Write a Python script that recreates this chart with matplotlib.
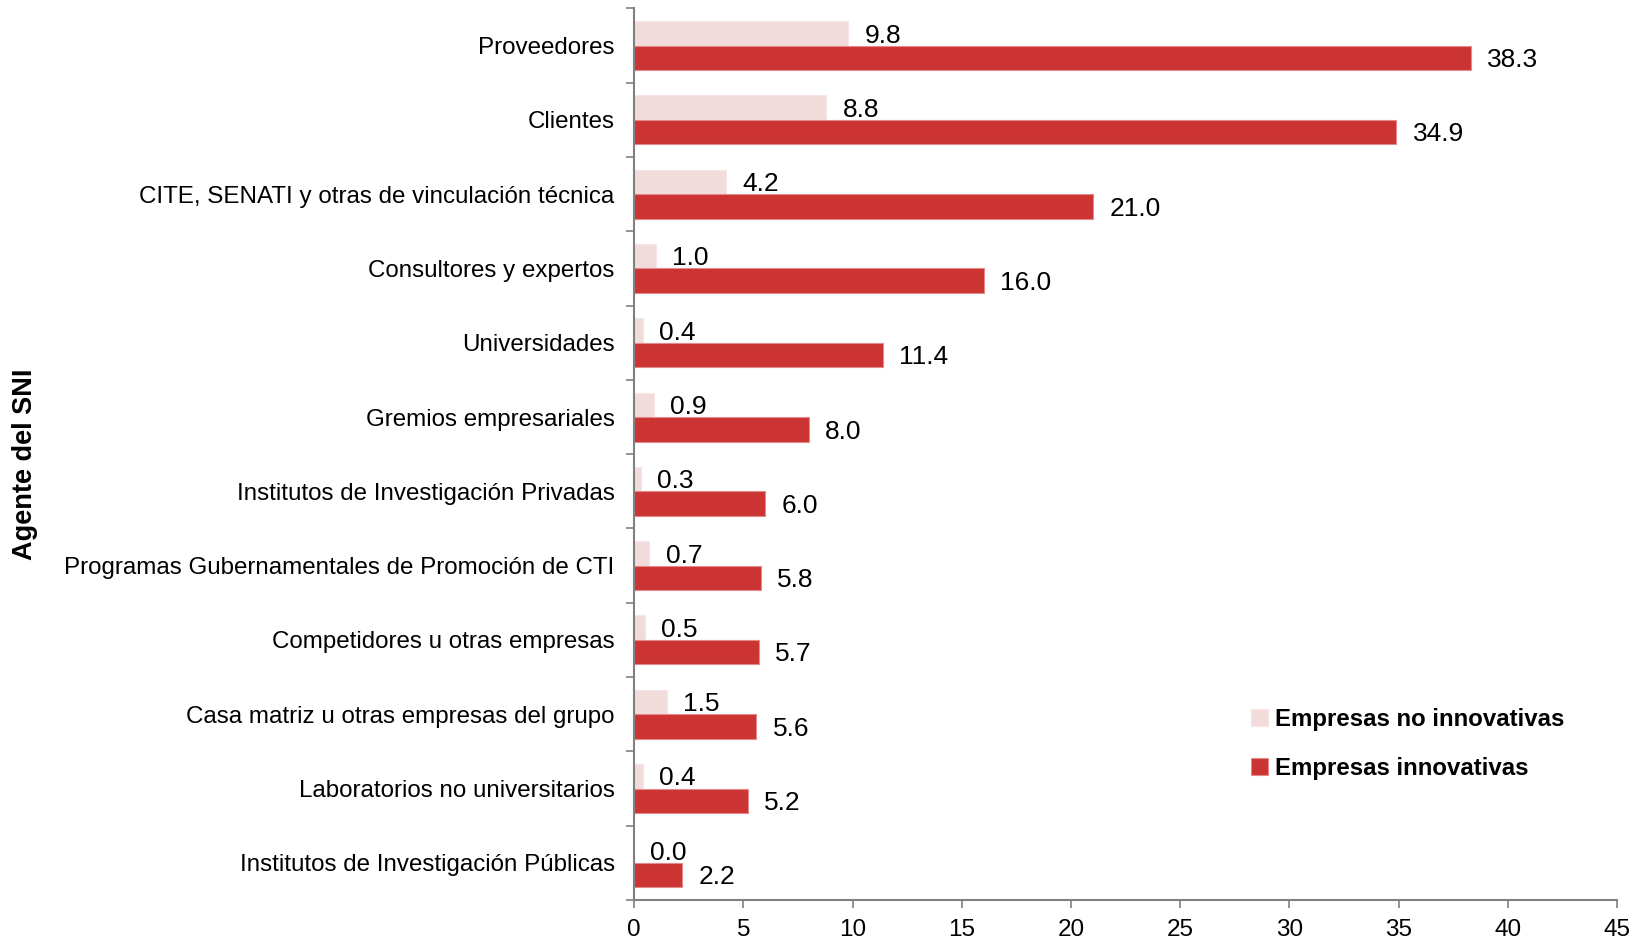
import numpy as np
import matplotlib.pyplot as plt

plt.rcParams['font.family'] = ['Liberation Sans', 'DejaVu Sans']

# Data (top to bottom as shown)
agentes = ['Proveedores', 'Clientes', 'CITE, SENATI y otras de vinculación técnica',
           'Consultores y expertos', 'Universidades', 'Gremios empresariales',
           'Institutos de Investigación Privadas',
           'Programas Gubernamentales de Promoción de CTI',
           'Competidores u otras empresas', 'Casa matriz u otras empresas del grupo',
           'Laboratorios no universitarios', 'Institutos de Investigación Públicas']
no_innov = [9.8, 8.8, 4.2, 1.0, 0.4, 0.9, 0.3, 0.7, 0.5, 1.5, 0.4, 0.0]
innov = [38.3, 34.9, 21.0, 16.0, 11.4, 8.0, 6.0, 5.8, 5.7, 5.6, 5.2, 2.2]
x_ticks = [0, 5, 10, 15, 20, 25, 30, 35, 40, 45]

c_light = '#F2DCDB'
c_dark = '#CC3333'
axis_gray = '#808080'

fig = plt.figure(figsize=(16.41, 9.40), dpi=100)
ax = fig.add_axes([0.3864, 0.0426, 0.599, 0.9484])

y = np.arange(len(agentes))
h = 0.33
ax.barh(y - h / 2, no_innov, height=h, color=c_light, edgecolor='#F7E6E5', linewidth=0.8,
        label='Empresas no innovativas')
ax.barh(y + h / 2, innov, height=h, color=c_dark, edgecolor='#E58A8A', linewidth=0.8,
        label='Empresas innovativas')

# value labels
dy = 0.03
for yi, v in zip(y, no_innov):
    ax.text(v + 0.75, yi - h / 2 + dy, f'{v:.1f}', va='center', ha='left', fontsize=19)
for yi, v in zip(y, innov):
    ax.text(v + 0.75, yi + h / 2 + dy, f'{v:.1f}', va='center', ha='left', fontsize=19)

ax.set_xlim(0, 45)
ax.set_ylim(len(agentes) - 0.5, -0.5)
ax.set_xticks(x_ticks)
ax.set_yticks(y)
ax.set_yticklabels(agentes, fontsize=17.4)
ax.set_yticks(np.arange(len(agentes) + 1) - 0.5, minor=True)
ax.tick_params(axis='y', which='major', length=0, pad=14)
ax.tick_params(axis='y', which='minor', length=6, color=axis_gray, width=1.2)
ax.tick_params(axis='x', labelsize=17.5, length=6, color=axis_gray, width=1.2, pad=8)

for s in ['top', 'right']:
    ax.spines[s].set_visible(False)
for s in ['left', 'bottom']:
    ax.spines[s].set_color(axis_gray)
    ax.spines[s].set_linewidth(1.5)

fig.text(0.0152, 0.506, 'Agente del SNI', rotation=90, va='center', ha='center',
         fontsize=19.5, fontweight='bold')

leg = ax.legend(loc='upper left', bbox_to_anchor=(0.606, 0.24), frameon=False,
                handlelength=0.7, handleheight=0.7, handletextpad=0.3,
                labelspacing=1.1, prop={'size': 17.3, 'weight': 'bold'})

fig.savefig('out.png', dpi=100)
